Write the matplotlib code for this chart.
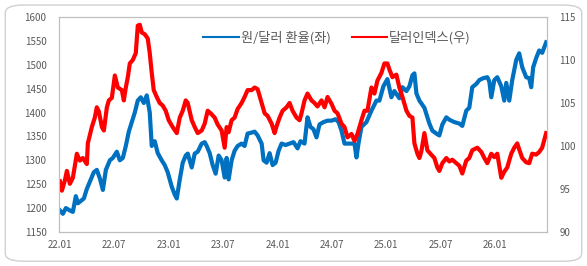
import numpy as np
import matplotlib
matplotlib.use('Agg')
from matplotlib import pyplot as plt
from matplotlib.lines import Line2D
from matplotlib.patches import FancyBboxPatch

plt.rcParams['font.family'] = ['Noto Sans CJK KR', 'DejaVu Sans']

# months since 2022.01
krw_months = [0.00, 0.33, 0.66, 1.10, 1.43, 1.76, 1.98, 2.31, 2.64, 2.97, 3.30, 3.74, 4.07, 4.41,
              4.74, 5.07, 5.51, 5.84, 6.28, 6.61, 6.94, 7.27, 7.60, 7.93, 8.26, 8.59, 8.92, 9.25,
              9.58, 9.91, 10.13, 10.46, 10.79, 11.23, 11.56, 11.89, 12.33, 12.67, 12.89, 13.22,
              13.55, 13.88, 14.10, 14.54, 14.87, 15.20, 15.64, 15.97, 16.19, 16.52, 16.85, 17.18,
              17.51, 17.84, 18.17, 18.39, 18.61, 18.94, 19.27, 19.60, 20.04, 20.37, 20.70, 21.15,
              21.48, 21.81, 22.25, 22.47, 22.80, 23.13, 23.46, 23.79, 24.12, 24.45, 24.89, 25.33,
              25.77, 26.21, 26.54, 26.98, 27.31, 27.64, 27.97, 28.30, 28.63, 29.07, 29.52, 29.96,
              30.40, 30.73, 31.06, 31.39, 31.94, 32.49, 32.71, 32.93, 33.26, 33.81, 34.36, 34.91,
              35.24, 35.68, 36.12, 36.56, 36.89, 37.44, 37.78, 38.22, 38.55, 38.88, 39.10, 39.32,
              39.65, 40.20, 40.75, 41.08, 41.52, 41.85, 42.18, 42.62, 42.95, 43.50, 44.05, 44.38,
              44.82, 45.15, 45.48, 45.93, 46.26, 46.70, 47.14, 47.36, 47.58, 47.91, 48.24, 48.68,
              49.01, 49.23, 49.56, 49.89, 50.33, 50.66, 50.99, 51.43, 51.76, 51.98, 52.20, 52.53,
              52.86, 53.19, 53.63]
krw_usd = [1195, 1188, 1200, 1195, 1192, 1225, 1210, 1215, 1220, 1240, 1255, 1275, 1280, 1262,
           1238, 1280, 1300, 1305, 1318, 1300, 1305, 1330, 1360, 1380, 1400, 1425, 1432, 1420,
           1436, 1400, 1330, 1340, 1315, 1300, 1290, 1275, 1245, 1228, 1220, 1260,
           1295, 1310, 1314, 1285, 1314, 1318, 1335, 1338, 1330, 1315, 1290, 1272,
           1310, 1300, 1264, 1305, 1260, 1300, 1320, 1330, 1335, 1330, 1356, 1358,
           1360, 1352, 1335, 1300, 1295, 1315, 1290, 1295, 1320, 1335, 1332, 1335,
           1338, 1325, 1340, 1335, 1390, 1370, 1365, 1348, 1375, 1380, 1383, 1383,
           1386, 1380, 1362, 1335, 1335, 1335, 1306, 1335, 1370, 1380, 1404, 1425,
           1425, 1455, 1470, 1432, 1445, 1430, 1453, 1445, 1455, 1478, 1482, 1440,
           1425, 1410, 1377, 1362, 1356, 1352, 1375, 1390, 1385, 1380, 1377, 1372,
           1404, 1410, 1453, 1460, 1468, 1472, 1474, 1465, 1432, 1468, 1474, 1455,
           1425, 1462, 1425, 1468, 1510, 1524, 1495, 1474, 1472, 1453, 1495, 1514,
           1530, 1525, 1547]

dxy_months = [0.00, 0.22, 0.55, 0.77, 1.10, 1.43, 1.87, 2.20, 2.53, 2.97, 3.08, 3.52, 3.85, 4.07,
              4.30, 4.63, 4.85, 5.18, 5.40, 5.73, 6.06, 6.39, 6.83, 7.05, 7.27, 7.49, 7.71, 8.04,
              8.37, 8.59, 8.81, 9.03, 9.36, 9.69, 9.91, 10.13, 10.35, 10.68, 11.01, 11.34, 11.67,
              12.00, 12.44, 12.89, 13.22, 13.55, 13.88, 14.10, 14.54, 14.87, 15.20, 15.64, 15.97,
              16.30, 16.63, 17.07, 17.40, 17.84, 18.17, 18.39, 18.61, 18.94, 19.27, 19.60, 20.04,
              20.37, 20.70, 21.15, 21.48, 21.81, 22.25, 22.58, 22.91, 23.35, 23.68, 23.90, 24.23,
              24.56, 25.00, 25.33, 25.66, 26.10, 26.43, 26.65, 26.98, 27.31, 27.75, 28.08, 28.41,
              28.85, 29.19, 29.52, 29.96, 30.29, 30.62, 31.06, 31.39, 31.72, 32.16, 32.49, 32.82,
              33.26, 33.59, 33.92, 34.36, 34.69, 35.02, 35.46, 35.79, 36.12, 36.34, 36.67, 37.11,
              37.44, 37.78, 38.22, 38.55, 38.88, 39.10, 39.43, 39.65, 39.87, 40.20, 40.53, 40.86,
              41.30, 41.63, 41.85, 42.18, 42.62, 42.95, 43.28, 43.72, 44.05, 44.38, 44.82, 45.15,
              45.48, 46.04, 46.48, 46.81, 47.14, 47.58, 47.91, 48.24, 48.68, 49.01, 49.34, 49.78,
              50.11, 50.44, 50.66, 50.99, 51.43, 51.76, 52.09, 52.53, 52.86, 53.19, 53.63]
dollar_index = [95.9, 94.8, 96.0, 97.1, 95.6, 96.3, 99.1, 98.3, 98.6, 97.9, 100.3, 102.2, 103.3, 104.5,
                104.0, 102.2, 101.8, 104.5, 105.3, 105.6, 108.2, 106.8, 106.5, 105.3, 106.8, 108.0, 109.6, 110.0,
                110.8, 114.0, 114.1, 113.2, 113.0, 112.5, 110.8, 108.5, 106.5, 105.7, 105.0, 104.7, 104.1,
                103.0, 102.2, 101.5, 103.3, 104.1, 105.3, 105.0, 103.0, 102.2, 101.5, 101.8, 102.6,
                104.1, 103.8, 103.3, 102.5, 101.8, 99.8, 102.2, 101.6, 103.0, 103.3, 104.3, 105.0,
                105.7, 106.5, 106.5, 106.8, 106.6, 105.0, 103.8, 103.5, 102.6, 101.5, 102.3, 103.3,
                104.1, 104.5, 105.0, 104.1, 103.3, 103.0, 103.8, 105.3, 106.1, 105.3, 105.0, 104.6,
                105.3, 104.5, 105.7, 104.9, 104.1, 103.8, 102.6, 102.2, 101.0, 101.4, 100.6, 101.4,
                103.0, 104.1, 104.1, 106.8, 106.1, 107.6, 108.5, 109.6, 109.6, 108.9, 108.0, 108.3,
                106.8, 105.7, 104.1, 103.5, 103.3, 100.3, 99.1, 98.6, 99.4, 101.5, 99.5, 99.1,
                98.6, 97.5, 97.1, 98.0, 98.6, 98.2, 98.4, 98.0, 97.7, 96.8, 98.3, 98.6,
                99.5, 99.8, 99.3, 98.6, 98.0, 99.1, 98.7, 99.1, 96.3, 97.0, 97.5, 99.1,
                99.8, 100.3, 99.6, 98.6, 98.1, 98.0, 99.1, 99.0, 99.3, 99.8, 101.5]

tick_months = [0, 6, 12, 18, 24, 30, 36, 42, 48]
tick_labels = ['22.01', '22.07', '23.01', '23.07', '24.01', '24.07', '25.01', '25.07', '26.01']
series_names = ['원/달러 환율(좌)', '달러인덱스(우)']

BLUE = '#0070C0'
RED = '#FF0000'
GRAY_TXT = '#595959'
FRAME = '#BFBFBF'

fig = plt.figure(figsize=(5.87, 2.66), dpi=100)
fig.patches.append(FancyBboxPatch((0.009, 0.018), 0.982, 0.963, boxstyle='round,pad=0,rounding_size=0.03',
                                  transform=fig.transFigure, fill=False, edgecolor='#D0D0D0', linewidth=1.0))

ax1 = fig.add_axes([0.1005, 0.128, 0.831, 0.808])
ax2 = ax1.twinx()

ax1.plot(krw_months, krw_usd, color=BLUE, linewidth=3.0, solid_joinstyle='round')
ax2.plot(dxy_months, dollar_index, color=RED, linewidth=3.0, solid_joinstyle='round')

ax1.set_xlim(-0.1, 53.7)
ax1.set_ylim(1150, 1600)
ax1.set_yticks(np.arange(1150, 1601, 50))
ax2.set_ylim(90, 115)
ax2.set_yticks(np.arange(90, 116, 5))
ax1.set_xticks(tick_months)
ax1.set_xticklabels(tick_labels)

for ax in (ax1, ax2):
    for sp in ax.spines.values():
        sp.set_color(FRAME)
        sp.set_linewidth(0.8)
    ax.tick_params(length=0, labelsize=7, colors=GRAY_TXT)
ax1.tick_params(axis='y', pad=9)
ax2.tick_params(axis='y', pad=9)
ax1.tick_params(axis='x', pad=6)

# legend keys are thin in the original
handles = [Line2D([], [], color=BLUE, linewidth=1.5), Line2D([], [], color=RED, linewidth=1.5)]
ax2.legend(handles, series_names, loc='center', bbox_to_anchor=(0.57, 0.905), ncol=2, frameon=False,
           fontsize=9.5, handlelength=2.7, columnspacing=1.6, handletextpad=0.12, labelcolor=GRAY_TXT)

fig.savefig('out.png', dpi=100)
